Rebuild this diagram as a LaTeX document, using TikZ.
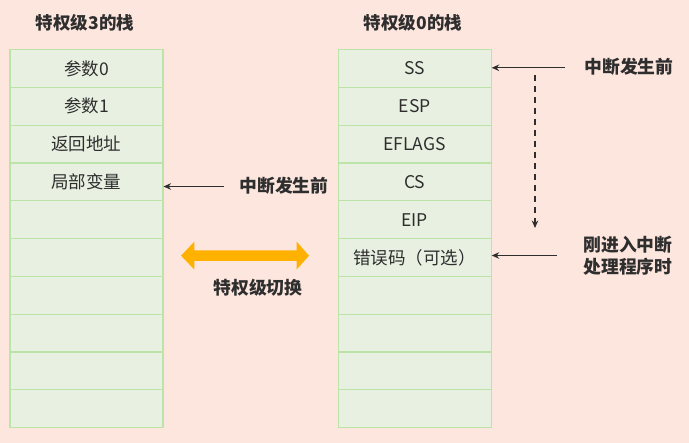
\documentclass[tikz,border=0pt]{standalone}
\usepackage{fontspec}
\setmainfont{Noto Sans CJK SC}
\usetikzlibrary{arrows.meta}
\definecolor{bgpink}{HTML}{FDE6DE}
\definecolor{rowfill}{HTML}{E8F0E1}
\definecolor{rowline}{HTML}{BCE3A8}
\definecolor{txt}{HTML}{2E2E2E}
\definecolor{orangearrow}{HTML}{FFB100}
\tikzset{
  cell/.style={draw=rowline, fill=rowfill, line width=1.2pt, minimum width=153pt, minimum height=37.8pt, inner sep=0pt, anchor=north west, text=txt, font=\fontsize{17.5}{20}\selectfont},
  title/.style={text=txt, font=\fontsize{17.5}{20}\selectfont\bfseries, inner sep=0pt},
  lbl/.style={text=txt, font=\fontsize{17.8}{22}\selectfont\bfseries, inner sep=0pt, align=center},
  ptr/.style={-{Stealth[length=7.5pt,width=6.5pt]}, line width=1.2pt, draw=txt},
}
\begin{document}
\begin{tikzpicture}[x=1pt,y=-1pt]
\fill[bgpink] (0,0) rectangle (689,443);
\useasboundingbox (0,0) rectangle (689,443);
% titles
\node[title] (t3) at (85,23) {特权级3的栈};
\node[title] (t0) at (413,23) {特权级0的栈};
% left stack
\foreach \i/\t in {0/参数0,1/参数1,2/返回地址,3/局部变量,4/,5/,6/,7/,8/,9/}{
  \node[cell] (L\i) at (9.3,{49+37.8*\i}) {\t};
}
% right stack
\foreach \i/\t in {0/SS,1/ESP,2/EFLAGS,3/CS,4/EIP,5/错误码（可选）,6/,7/,8/,9/}{
  \node[cell] (R\i) at (337.5,{49+37.8*\i}) {\t};
}
% labels
\node[lbl] (lb1) at (284,186) {中断发生前};
\node[lbl] (lb2) at (629,67) {中断发生前};
\node[lbl] (lb3) at (628,256) {刚进入中断\\处理程序时};
\node[lbl] (lb4) at (258,288) {特权级切换};
% pointers
\coordinate (p1) at (224,186.5);
\coordinate (p2) at (565,67.8);
\coordinate (p3) at (557,255.5);
\draw[ptr] (p1) -- (L3.east |- p1);
\draw[ptr] (p2) -- (R0.east |- p2);
\draw[ptr] (p3) -- (R5.east |- p3);
% dashed
\coordinate (d1) at (535,75);
\coordinate (d2) at (535,228);
\draw[ptr, dash pattern=on 6pt off 5pt] (d1) -- (d2);
% orange double arrow
\fill[orangearrow] (181,255.7) -- (194.3,241.7) -- (194.3,250.5) -- (296.7,250.5) -- (296.7,241.7) -- (309,255.7) -- (296.7,269.5) -- (296.7,261) -- (194.3,261) -- (194.3,269.5) -- cycle;
\end{tikzpicture}
\end{document}
